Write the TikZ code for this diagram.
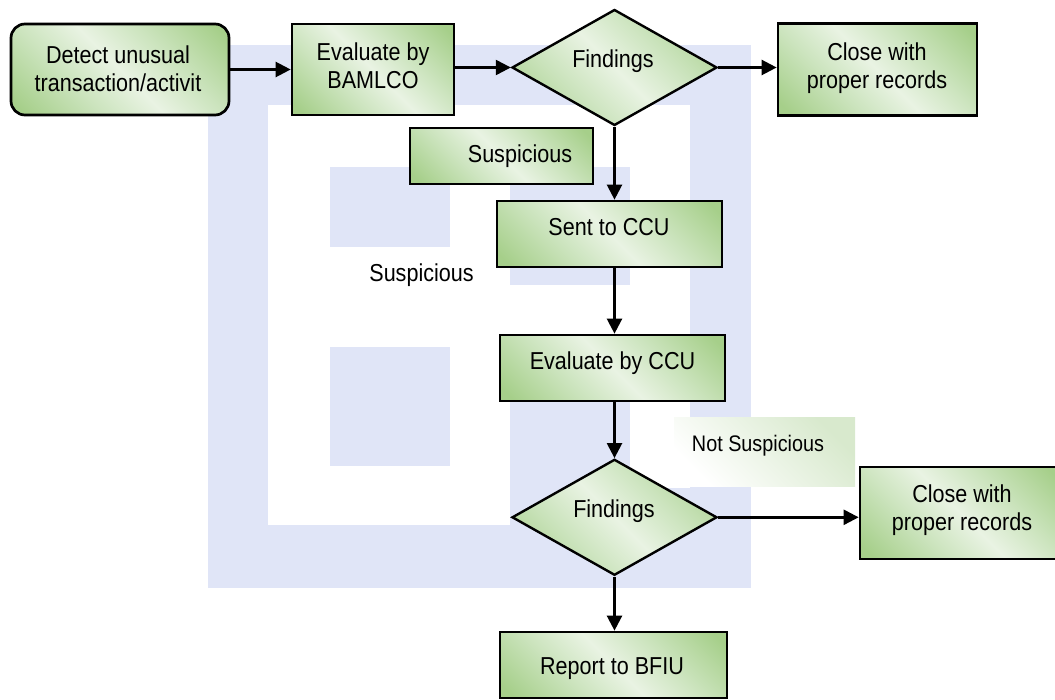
\documentclass[tikz,border=0pt]{standalone}
\usepackage{fontspec}
\setmainfont{Liberation Sans}[FakeStretch=0.88]
\usetikzlibrary{arrows.meta,shapes.geometric}
\definecolor{wm}{RGB}{224,229,247}
\definecolor{gdark}{RGB}{166,207,138}
\definecolor{gmid}{RGB}{204,228,190}
\definecolor{glight}{RGB}{233,243,227}
\definecolor{nsg}{RGB}{216,233,205}
\pgfdeclarehorizontalshading{gdiag}{100bp}{color(0bp)=(gdark); color(18bp)=(gdark); color(36bp)=(gmid); color(50bp)=(glight); color(64bp)=(gmid); color(82bp)=(gdark); color(100bp)=(gdark)}
\newcommand\myfs{\fontsize{24.5}{27.7}\selectfont}
\newcommand\myfsns{\fontsize{22.5}{26}\selectfont}
\begin{document}
\begin{tikzpicture}[x=1pt,y=-1pt,
  gshade/.style={shading=gdiag,shading angle=45},
  box/.style={gshade,draw=black,line width=2.7pt,rectangle,inner sep=0pt},
  dia/.style={gshade,draw=black,line width=2.4pt,diamond,inner sep=0pt,minimum width=205pt,minimum height=116pt},
  txt/.style={font=\myfs,anchor=base,inner sep=0pt,align=center},
  arr/.style={line width=2.4pt,-{Triangle[length=15pt,width=15pt]}},
]
\useasboundingbox (0,0) rectangle (1055,700);
% watermark
\fill[wm] (208,45) rectangle (751,588);
\fill[white] (268,105) rectangle (690,525);
\fill[wm] (330,167) rectangle (450,247);
\fill[wm] (510,167) rectangle (630,285);
\fill[wm] (330,347) rectangle (450,466);
\fill[wm] (510,347) rectangle (630,525);
\fill[wm] (630,488) rectangle (690,525);
% nodes
\node[box,rounded corners=14pt,minimum width=218pt,minimum height=91pt] (detect) at (120,69.5) {};
\node[box,minimum width=162pt,minimum height=91pt] (bamlco) at (373,69.5) {};
\node[dia] (find1) at (614.5,67.5) {};
\node[box,minimum width=199pt,minimum height=92pt] (close1) at (877.5,69.7) {};
\node[box,minimum width=183pt,minimum height=56pt] (susp) at (501.5,156) {};
\node[box,minimum width=225pt,minimum height=66pt] (sent) at (609.5,234) {};
\node[box,minimum width=225pt,minimum height=66pt] (evalccu) at (612.5,368) {};
\node[top color=nsg,bottom color=white,shading angle=-45,rectangle,inner sep=0pt,minimum width=181pt,minimum height=68pt] (nsbox) at (764.5,452) {};
\node[dia] (find2) at (614.5,517.3) {};
\node[box,minimum width=201pt,minimum height=92pt] (close2) at (960.5,513) {};
\node[box,minimum width=227pt,minimum height=66pt] (report) at (613.5,665) {};
% texts
\node[txt] (tdetect) at (118,91.7) {Detect unusual\\transaction/activit};
\node[txt] (tbamlco) at (373,88.5) {Evaluate by\\BAMLCO};
\node[txt] (tclose1) at (877,88.5) {Close with\\proper records};
\node[txt] (tfind1) at (613,67.5) {Findings};
\node[txt] (tsusp) at (520,163) {Suspicious};
\node[txt] (tsent) at (609,236) {Sent to CCU};
\node[txt] (tsusp2) at (421.5,281.7) {Suspicious};
\node[txt] (teval) at (612.5,370) {Evaluate by CCU};
\node[txt,font=\myfsns] (tns) at (758,451.5) {Not Suspicious};
\node[txt] (tfind2) at (614,517.3) {Findings};
\node[txt] (tclose2) at (962,530) {Close with\\proper records};
\node[txt] (treport) at (612,674) {Report to BFIU};
% arrows
\draw[arr] (detect.east) -- (bamlco.west);
\draw[arr] (bamlco.east |- find1.west) -- (find1.west);
\draw[arr] (find1.east) -- (find1.east -| close1.west);
\draw[arr] (find1.south) -- (find1.south |- sent.north);
\draw[arr] (sent.south -| find1.south) -- (evalccu.north -| find1.south);
\draw[arr] (evalccu.south -| find2.north) -- (find2.north);
\draw[arr] (find2.east) -- (find2.east -| close2.west);
\draw[arr] (find2.south) -- (find2.south |- report.north);
\end{tikzpicture}
\end{document}
